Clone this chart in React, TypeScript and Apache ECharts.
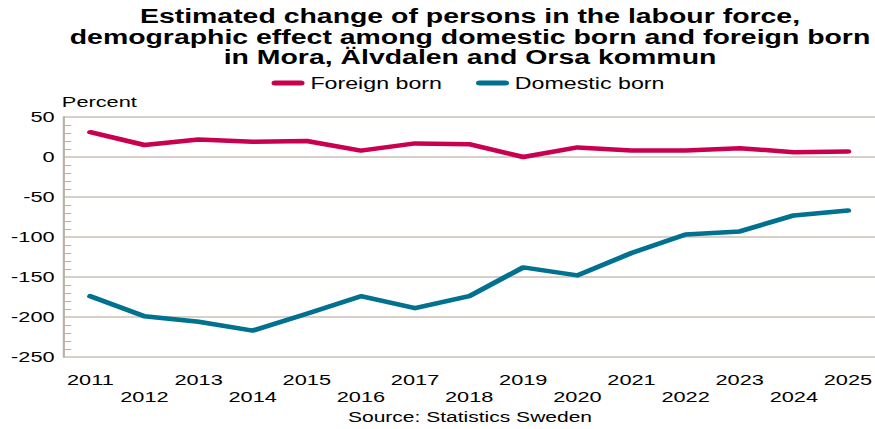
import React, { useEffect, useRef } from "react";
import * as echarts from "echarts";

const years = ["2011","2012","2013","2014","2015","2016","2017","2018","2019","2020","2021","2022","2023","2024","2025"];
const foreignBorn = [31, 15, 22, 19, 20, 8, 17, 16, 0, 12, 8, 8, 11, 6, 7];
const domesticBorn = [-174, -199, -206, -217, -196, -174, -189, -174, -138, -148, -120, -97, -93, -73, -67];
const titleLines = [
  "Estimated change of persons in the labour force,",
  "demographic effect among domestic born and foreign born",
  "in Mora, Älvdalen and Orsa kommun",
];
const sourceText = "Source: Statistics Sweden";

const SX = 875 / 603;
const FONT = '"Liberation Sans", Arial, Helvetica, sans-serif';
const RED = "#c9004f";
const TEAL = "#00718f";
const GRIDC = "#c9c1b6";
const AXISC = "#bab2a7";

export default function App() {
  const ref = useRef<HTMLDivElement>(null);
  useEffect(() => {
    if (!ref.current) return;
    const chart = echarts.init(ref.current, null, { renderer: "svg" });
    const pill = "path://M2.5,0 H20.3 A2.5,2.5 0 0 1 20.3,5 H2.5 A2.5,2.5 0 0 1 2.5,0 Z";
    chart.setOption({
      animation: false,
      textStyle: { fontFamily: FONT },
      title: {
        text: titleLines.join("\n"),
        left: 470 / SX,
        top: 6,
        padding: 0,
        textAlign: "center",
        textStyle: { fontFamily: FONT, fontSize: 19.6, fontWeight: "bold", lineHeight: 20.6, color: "#000" },
      },
      legend: {
        left: 271.5 / SX,
        top: 75,
        padding: 0,
        itemWidth: 22.8,
        itemHeight: 5,
        itemGap: 23.4,
        icon: pill,
        textStyle: { fontFamily: FONT, fontSize: 16, color: "#000", padding: [0, 0, 0, -1] },
        data: ["Foreign born", "Domestic born"],
      },
      grid: { left: 63.3 / SX, right: 0, top: 117, bottom: 72, containLabel: false, outerBoundsMode: "none" },
      xAxis: {
        type: "category",
        data: years,
        boundaryGap: true,
        axisLine: { show: false },
        axisTick: { show: false },
        axisLabel: {
          interval: 0,
          margin: 14,
          fontFamily: FONT,
          fontSize: 15,
          lineHeight: 17.4,
          color: "#000",
          formatter: (v: string, i: number) => (i % 2 === 1 ? "\n" + v : v),
        },
      },
      yAxis: {
        type: "value",
        min: -250,
        max: 50,
        interval: 50,
        name: "Percent",
        nameLocation: "end",
        nameGap: 5,
        nameTextStyle: { fontFamily: FONT, fontSize: 15, color: "#000", align: "left", padding: [0, 0, 0, -1] },
        axisLine: { show: true, lineStyle: { color: AXISC, width: 1.5 } },
        axisTick: { show: false, inside: true, length: 5.5 },
        minorTick: { show: true, splitNumber: 5, length: 5.5, lineStyle: { color: AXISC, width: 1 } },
        splitLine: { show: true, lineStyle: { color: GRIDC, width: 1.5 } },
        axisLabel: { margin: 6, fontFamily: FONT, fontSize: 15, color: "#000" },
      },
      series: [
        {
          name: "Foreign born",
          type: "line",
          data: foreignBorn,
          symbol: "none",
          color: RED,
          lineStyle: { color: RED, width: 4.5, cap: "round", join: "round" },
        },
        {
          name: "Domestic born",
          type: "line",
          data: domesticBorn,
          symbol: "none",
          color: TEAL,
          lineStyle: { color: TEAL, width: 4.5, cap: "round", join: "round" },
        },
      ],
      graphic: [
        {
          type: "text",
          x: 470 / SX,
          y: 417.5,
          style: {
            text: sourceText,
            fontFamily: FONT,
            fontSize: 14.5,
            fill: "#000",
            textAlign: "center",
            textVerticalAlign: "middle",
          },
        },
      ],
    });
    return () => chart.dispose();
  }, []);
  return (
    <div
      ref={ref}
      style={{
        position: "absolute",
        left: 0,
        top: 0,
        width: 603,
        height: 429,
        transform: `scaleX(${SX})`,
        transformOrigin: "0 0",
      }}
    />
  );
}
